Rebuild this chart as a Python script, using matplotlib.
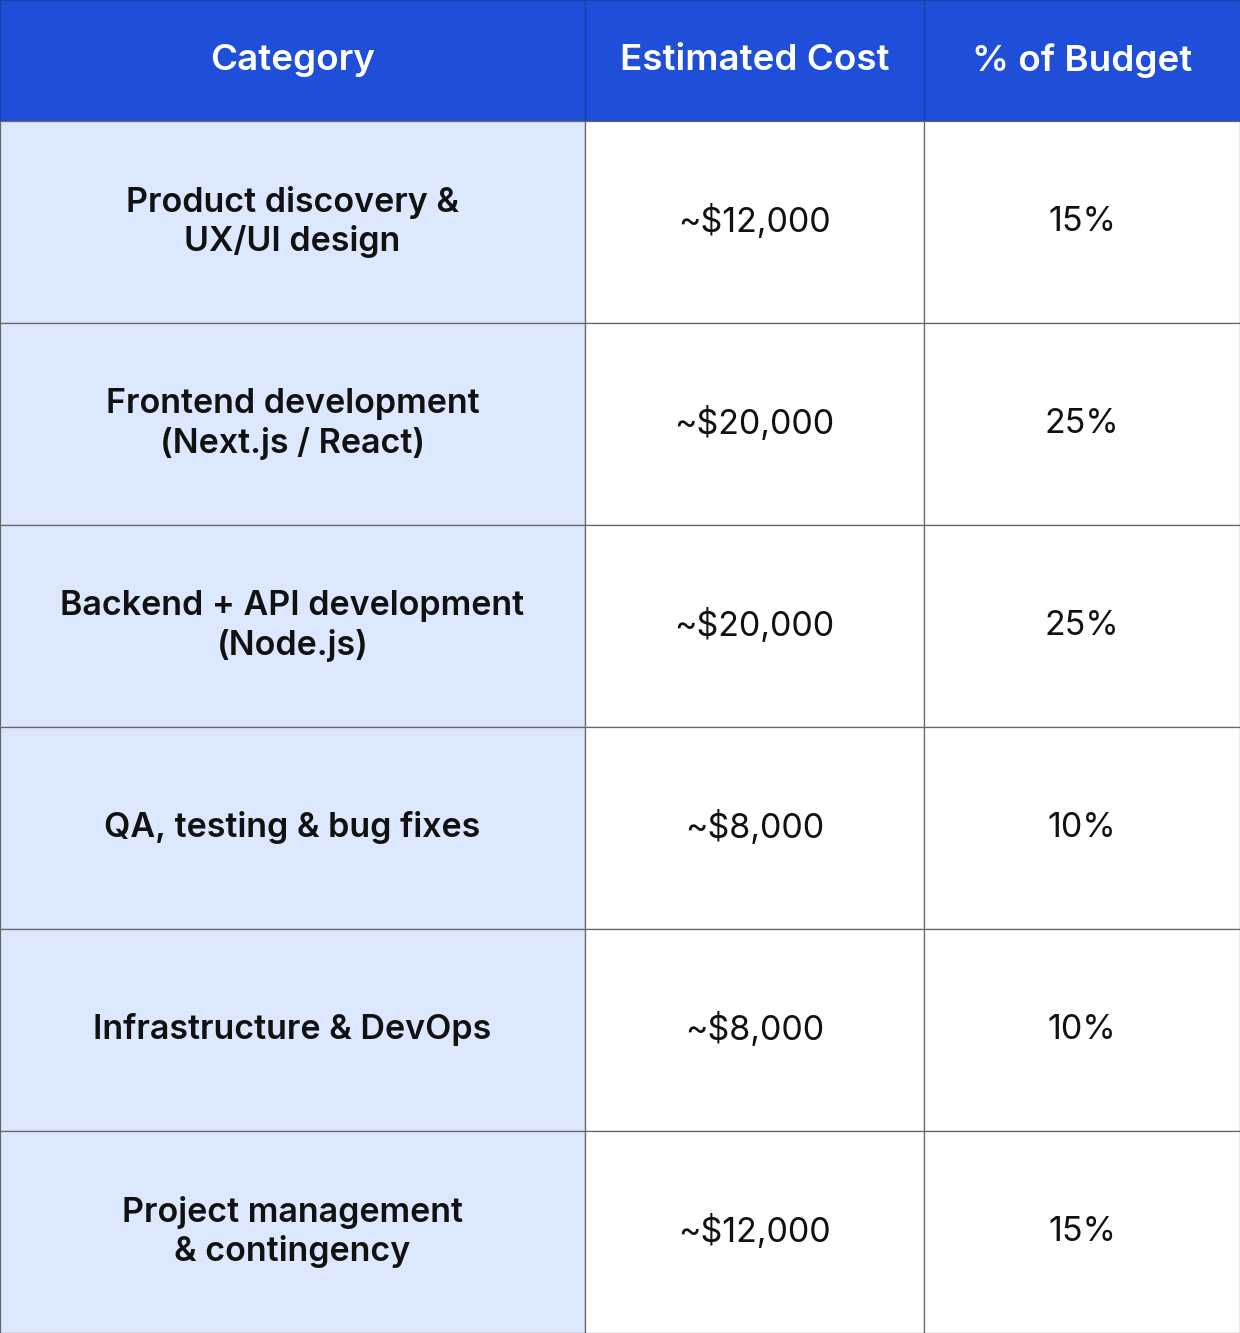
import matplotlib
matplotlib.use("Agg")
import matplotlib.pyplot as plt
from matplotlib.patches import Rectangle

headers = ["Category", "Estimated Cost", "% of Budget"]
categories = ["Product discovery &\nUX/UI design", "Frontend development\n(Next.js / React)",
              "Backend + API development\n(Node.js)", "QA, testing & bug fixes",
              "Infrastructure & DevOps", "Project management\n& contingency"]
costs = ["~$12,000", "~$20,000", "~$20,000", "~$8,000", "~$8,000", "~$12,000"]
shares = ["15%", "25%", "25%", "10%", "10%", "15%"]

W, H = 1240, 1333
col_edges = [0, 585, 924, 1240]
header_h = 121
row_h = (H - header_h) / len(categories)

fig = plt.figure(figsize=(W/100, H/100), dpi=100)
ax = fig.add_axes([0, 0, 1, 1])
ax.set_xlim(0, W); ax.set_ylim(H, 0); ax.axis("off")
font = "Inter"
blue = "#1F4FD8"

for j, h in enumerate(headers):
    x0, x1 = col_edges[j], col_edges[j+1]
    ax.add_patch(Rectangle((x0, 0), x1-x0, header_h, facecolor=blue, edgecolor="#1a3fb0", lw=1))
    ax.text((x0+x1)/2, header_h/2, h, color="white", fontsize=26.5, fontweight="semibold",
            family=font, ha="center", va="center")

for i in range(len(categories)):
    y0 = header_h + i*row_h
    vals = [categories[i], costs[i], shares[i]]
    for j in range(3):
        x0, x1 = col_edges[j], col_edges[j+1]
        fc = "#DBE8FE" if j == 0 else "white"
        ax.add_patch(Rectangle((x0, y0), x1-x0, row_h, facecolor=fc, edgecolor="#666666", lw=0.9))
        ax.text((x0+x1)/2, y0+row_h/2, vals[j], color="#111111", fontsize=24.5,
                fontweight="semibold" if j == 0 else "normal", family=font,
                ha="center", va="center", linespacing=1.25)

fig.savefig("out.png", dpi=100)
